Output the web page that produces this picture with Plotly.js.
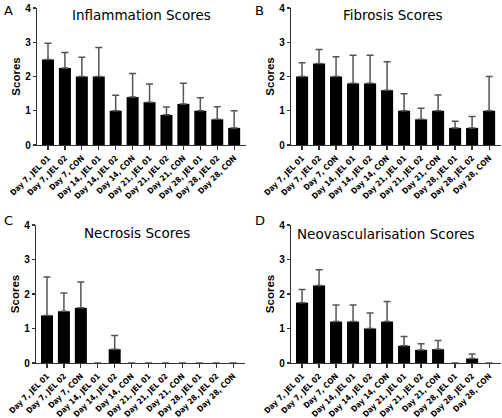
<!DOCTYPE html>
<html>
<head>
<meta charset="utf-8">
<script src="https://cdn.plot.ly/plotly-3.0.1.min.js"></script>
<style>html,body{margin:0;padding:0;background:#fff;}#chart{width:502px;height:418px;}</style>
</head>
<body>
<div id="chart"></div>
<script>
const categories = ['Day 7, JEL 01','Day 7, JEL 02','Day 7, CON','Day 14, JEL 01','Day 14, JEL 02','Day 14, CON','Day 21, JEL 01','Day 21, JEL 02','Day 21, CON','Day 28, JEL 01','Day 28, JEL 02','Day 28, CON'];

const inflammation    = [2.5, 2.25, 2.0, 2.0, 1.0, 1.4, 1.25, 0.88, 1.2, 1.0, 0.75, 0.5];
const inflammationErr = [0.47, 0.45, 0.56, 0.85, 0.45, 0.69, 0.53, 0.23, 0.6, 0.38, 0.37, 0.5];

const fibrosis    = [2.0, 2.38, 2.0, 1.8, 1.8, 1.6, 1.0, 0.75, 1.0, 0.5, 0.5, 1.0];
const fibrosisErr = [0.4, 0.41, 0.58, 0.82, 0.82, 0.83, 0.5, 0.32, 0.46, 0.19, 0.33, 1.0];

const necrosis    = [1.38, 1.5, 1.6, 0, 0.4, 0, 0, 0, 0, 0, 0, 0];
const necrosisErr = [1.11, 0.53, 0.75, null, 0.4, null, null, null, null, null, null, null];

const neovasc    = [1.75, 2.25, 1.2, 1.2, 1.0, 1.2, 0.5, 0.38, 0.4, 0, 0.13, 0];
const neovascErr = [0.38, 0.45, 0.48, 0.48, 0.45, 0.58, 0.27, 0.18, 0.25, null, 0.13, null];

const titles = ['Inflammation Scores', 'Fibrosis Scores', 'Necrosis Scores', 'Neovascularisation Scores'];
const letters = ['A', 'B', 'C', 'D'];
const series = [[inflammation, inflammationErr], [fibrosis, fibrosisErr], [necrosis, necrosisErr], [neovasc, neovascErr]];

const W = 502, H = 418;
const px = (a, b) => [a / W, b / W];
const py = (top, bottom) => [1 - bottom / H, 1 - top / H];
const xdoms = [px(37, 246), px(291, 501), px(36, 245), px(291, 501)];
const ydoms = [py(8, 145), py(8, 145), py(225, 363), py(225, 363)];
const titleX = [141, 393, 137, 386];
const titleY = [15, 15, 233, 234];

const data = [];
const layout = {
  width: W, height: H,
  margin: {l: 0, r: 0, t: 0, b: 0},
  paper_bgcolor: '#fff', plot_bgcolor: '#fff',
  showlegend: false,
  bargap: 0.29,
  annotations: []
};

for (let i = 0; i < 4; i++) {
  const n = i === 0 ? '' : String(i + 1);
  data.push({
    type: 'bar',
    x: categories,
    y: series[i][0],
    xaxis: 'x' + n, yaxis: 'y' + n,
    marker: {color: '#000', line: {width: 0}},
    error_y: {type: 'data', symmetric: false, array: series[i][1], arrayminus: series[i][1].map(() => 0),
              color: '#555', thickness: 1.5, width: 3.5}
  });
  layout['xaxis' + n] = {
    domain: xdoms[i], anchor: 'y' + n, type: 'category',
    range: [-0.65, 11.7], fixedrange: true,
    showline: true, linecolor: '#333', linewidth: 1.3,
    ticks: 'outside', ticklen: 4, tickcolor: '#333', tickwidth: 1.2,
    tickangle: -45, showgrid: false, zeroline: false,
    tickfont: {family: 'DejaVu Sans Condensed, DejaVu Sans', size: 8, color: '#000', weight: 'bold'}
  };
  layout['yaxis' + n] = {
    domain: ydoms[i], anchor: 'x' + n,
    range: [0, 4], tickvals: [0, 1, 2, 3, 4],
    showline: true, linecolor: '#333', linewidth: 1.3,
    ticks: 'outside', ticklen: 3, tickcolor: '#333', tickwidth: 1.2,
    showgrid: false, zeroline: false,
    tickfont: {family: 'Liberation Sans', size: 10, color: '#000', weight: 'bold'},
    title: {text: 'Scores', font: {family: 'Liberation Sans', size: 11.5, color: '#000', weight: 'bold'}, standoff: 2}
  };
  layout.annotations.push({
    text: titles[i], xref: 'paper', yref: 'paper',
    x: titleX[i] / W, y: 1 - titleY[i] / H,
    xanchor: 'center', yanchor: 'middle', showarrow: false,
    font: {family: 'DejaVu Sans', size: 13.5, color: '#000'}
  });
  layout.annotations.push({
    text: letters[i], xref: 'paper', yref: 'paper',
    x: (i % 2 === 0 ? 2 : 253) / W,
    y: i < 2 ? 1 - 11 / H : 1 - 220 / H,
    xanchor: 'left', yanchor: 'middle', showarrow: false,
    font: {family: 'DejaVu Sans', size: 13, color: '#000'}
  });
}

Plotly.newPlot('chart', data, layout, {displayModeBar: false, staticPlot: true});
</script>
</body>
</html>
